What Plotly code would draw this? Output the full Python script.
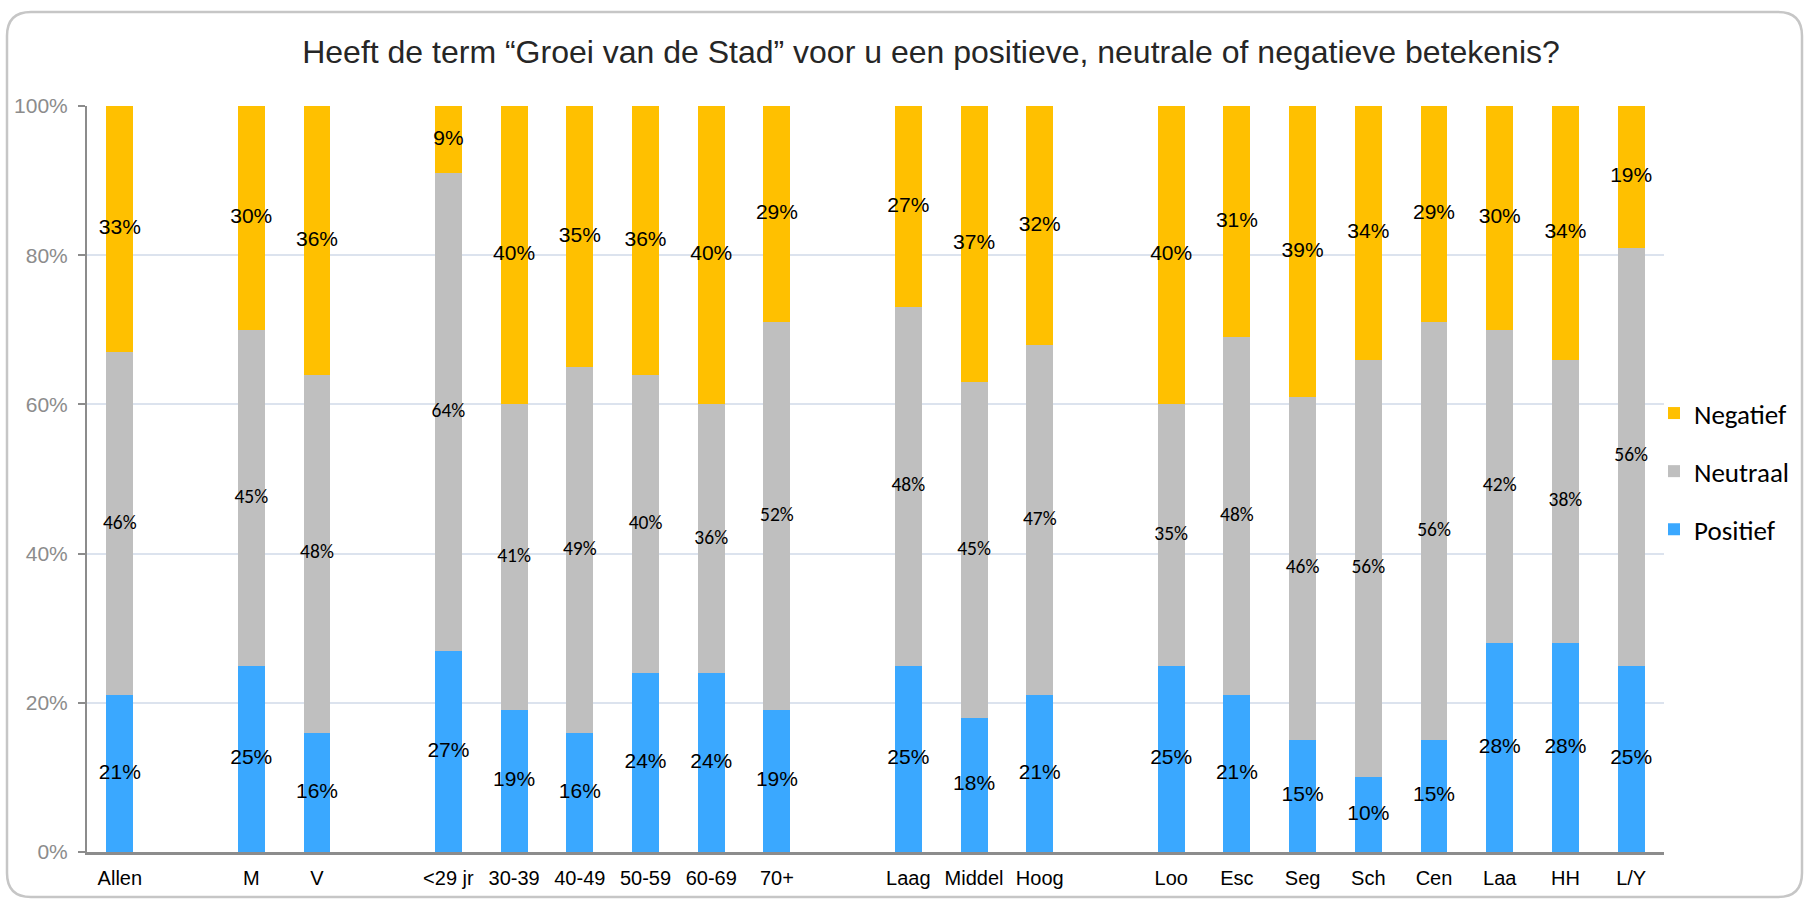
import plotly.graph_objects as go

# ---------------- data ----------------
categories = ["Allen", "M", "V", "<29 jr", "30-39", "40-49", "50-59", "60-69", "70+",
              "Laag", "Middel", "Hoog", "Loo", "Esc", "Seg", "Sch", "Cen", "Laa", "HH", "L/Y"]
groups = ["Alle", "Geslacht", "Geslacht", "Leeftijd", "Leeftijd", "Leeftijd", "Leeftijd", "Leeftijd", "Leeftijd",
          "Opleiding", "Opleiding", "Opleiding", "Wijk", "Wijk", "Wijk", "Wijk", "Wijk", "Wijk", "Wijk", "Wijk"]
positief = [21, 25, 16, 27, 19, 16, 24, 24, 19, 25, 18, 21, 25, 21, 15, 10, 15, 28, 28, 25]
neutraal = [46, 45, 48, 64, 41, 49, 40, 36, 52, 48, 45, 47, 35, 48, 46, 56, 56, 42, 38, 56]
negatief = [33, 30, 36, 9, 40, 35, 36, 40, 29, 27, 37, 32, 40, 31, 39, 34, 29, 30, 34, 19]
y_ticks = [0, 20, 40, 60, 80, 100]
title_text = "Heeft de term \u201cGroei van de Stad\u201d voor u een positieve, neutrale of negatieve betekenis?"

# ---------------- layout constants ----------------
W, H = 1806, 900
L, R, T, B = 87, 142, 106, 48
PW, PH = W - L - R, H - T - B

C_POS = "#3AA8FF"
C_NEU = "#BFBFBF"
C_NEG = "#FFC000"
SANS = "Liberation Sans, Arial, sans-serif"
CALIBRI = "Carlito, Calibri, Lato, Noto Sans, sans-serif"

# x positions: one empty slot between groups
xpos = []
p = 0
for i, g in enumerate(groups):
    if i > 0 and g != groups[i - 1]:
        p += 1
    xpos.append(p)
    p += 1
n_slots = p

fig = go.Figure()
series = [("Positief", positief, C_POS, 3), ("Neutraal", neutraal, C_NEU, 2), ("Negatief", negatief, C_NEG, 1)]
for name, vals, col, rank in series:
    fig.add_trace(go.Bar(x=xpos, y=vals, name=name, marker=dict(color=col, line=dict(width=0)),
                         width=0.41, legendgroup=name, legendrank=rank, hoverinfo="skip"))

# data labels centred in each segment
base = [0] * len(categories)
for name, vals, col, rank in series:
    mids = [b + v / 2 for b, v in zip(base, vals)]
    if name == "Neutraal":
        tf = dict(family=CALIBRI, size=19.5, color="#000000")
    else:
        tf = dict(family=SANS, size=21, color="#000000")
    fig.add_trace(go.Scatter(x=xpos, y=mids, mode="text", text=[f"{v}%" for v in vals],
                             textfont=tf, showlegend=False, hoverinfo="skip", cliponaxis=False))
    base = [b + v for b, v in zip(base, vals)]

# rounded frame
def px(x):
    return (x - L) / PW

def py(y):
    return (H - B - y) / PH

x0, y0, x1, y1, r = 7, 12, 1802, 897, 24
pts = [
    ("M", x0 + r, y0), ("L", x1 - r, y0), ("Q", x1, y0, x1, y0 + r), ("L", x1, y1 - r),
    ("Q", x1, y1, x1 - r, y1), ("L", x0 + r, y1), ("Q", x0, y1, x0, y1 - r), ("L", x0, y0 + r),
    ("Q", x0, y0, x0 + r, y0),
]
path = ""
for seg in pts:
    cmd = seg[0]
    coords = seg[1:]
    s = []
    for k in range(0, len(coords), 2):
        s.append(f"{px(coords[k]):.5f},{py(coords[k + 1]):.5f}")
    path += cmd + " " + " ".join(s) + " "
path += "Z"

fig.add_shape(type="path", path=path, xref="paper", yref="paper",
              line=dict(color="#C6C6C6", width=2.5), fillcolor="rgba(0,0,0,0)", layer="below")

fig.update_layout(
    width=W, height=H,
    margin=dict(l=L, r=R, t=T, b=B, autoexpand=False),
    paper_bgcolor="white", plot_bgcolor="white",
    barmode="stack",
    title=dict(text=title_text, x=931 / W, xanchor="center", y=1 - 52 / H, yanchor="middle",
               xref="container", yref="container",
               font=dict(family=SANS, size=32, color="#262626")),
    legend=dict(x=px(1654), y=py(389), xanchor="left", yanchor="top",
                traceorder="grouped", tracegroupgap=20,
                font=dict(family=CALIBRI, size=27, color="#000000"),
                itemwidth=30, bgcolor="rgba(0,0,0,0)"),
    showlegend=True,
    font=dict(family=SANS),
)
fig.update_xaxes(range=[-0.5, n_slots - 0.5], tickmode="array", tickvals=xpos, ticktext=categories,
                 showgrid=False, showline=True, linecolor="#8C8C8C", linewidth=2.5,
                 ticks="", ticklabelstandoff=6, zeroline=False, automargin=False,
                 tickfont=dict(family=SANS, size=20, color="#000000"), fixedrange=True)
fig.update_yaxes(range=[0, 100], tickmode="array", tickvals=y_ticks, ticktext=[f"{v}%" for v in y_ticks],
                 showgrid=True, gridcolor="#DCE3EE", gridwidth=2,
                 showline=True, linecolor="#8C8C8C", linewidth=2,
                 ticks="outside", ticklen=7, tickcolor="#8C8C8C", tickwidth=1.5, zeroline=False,
                 ticklabelstandoff=6, automargin=False,
                 tickfont=dict(family=SANS, size=21, color="#8C8C8C"), fixedrange=True)

fig.write_html("out.html", config={"displayModeBar": False},
               post_script="document.body.style.margin='0';document.body.style.overflow='hidden';")
